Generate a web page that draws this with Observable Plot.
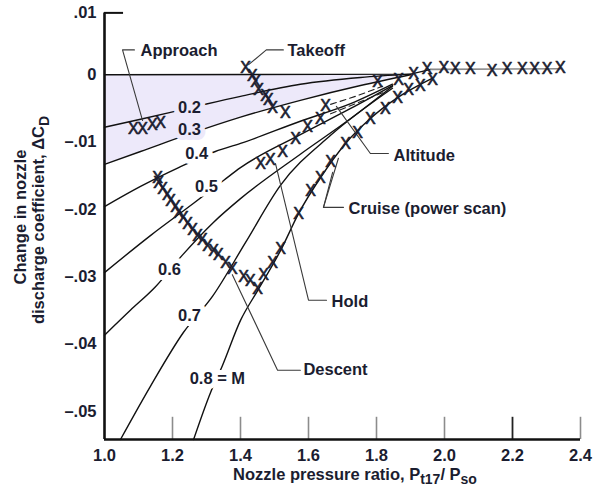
<!DOCTYPE html>
<html>
<head>
<meta charset="utf-8">
<script src="https://cdn.jsdelivr.net/npm/d3@7"></script>
<script src="https://cdn.jsdelivr.net/npm/@observablehq/plot@0.6"></script>
<style>
  body { margin: 0; background: #fff; }
  #chart { width: 598px; height: 488px; }
</style>
</head>
<body>
<div id="chart"></div>
<script>
// Axis ticks
const xTicks = [1.0, 1.2, 1.4, 1.6, 1.8, 2.0, 2.2, 2.4];
const yTicks = [0, -0.01, -0.02, -0.03, -0.04, -0.05];
const yTopTick = [0.01];

// Constant-Mach lines: [nozzle pressure ratio, change in discharge coefficient]
const machNames = ["0.2", "0.3", "0.4", "0.5", "0.6", "0.7", "0.8"];
const m02 = [[1.000,-0.0078],[1.106,-0.0066],[1.244,-0.0050],[1.400,-0.0032],[1.576,-0.0014],[1.753,-0.0004],[1.900,0.0001]];
const m03 = [[1.000,-0.0133],[1.106,-0.0114],[1.244,-0.0089],[1.400,-0.0063],[1.576,-0.0038],[1.753,-0.0016],[1.900,0.0000]];
const m04 = [[1.000,-0.0196],[1.106,-0.0166],[1.218,-0.0138],[1.326,-0.0114],[1.400,-0.0102],[1.576,-0.0069],[1.724,-0.0043],[1.847,-0.0014]];
const m05 = [[1.000,-0.0294],[1.135,-0.0239],[1.262,-0.0191],[1.350,-0.0157],[1.400,-0.0138],[1.576,-0.0089],[1.724,-0.0050],[1.847,-0.0016]];
const m06 = [[1.000,-0.0387],[1.076,-0.0350],[1.150,-0.0315],[1.229,-0.0268],[1.321,-0.0219],[1.400,-0.0184],[1.576,-0.0118],[1.724,-0.0065],[1.847,-0.0017]];
const m07 = [[1.047,-0.0542],[1.135,-0.0463],[1.232,-0.0383],[1.318,-0.0329],[1.415,-0.0249],[1.518,-0.0164],[1.665,-0.0090],[1.847,-0.0020]];
const m08 = [[1.262,-0.0542],[1.312,-0.0472],[1.347,-0.0432],[1.400,-0.0365],[1.450,-0.0321],[1.518,-0.0261],[1.571,-0.0206],[1.635,-0.0153],[1.709,-0.0102],[1.782,-0.0065],[1.862,-0.0034],[1.965,-0.0005]];

// Zero-change reference line and its continuation through the high-ratio points
const zeroLine = [[1.000,0.0000],[1.900,0.0001],[1.960,0.0008]];
const highNprLine = [[1.960,0.0008],[2.341,0.0009]];

// Mach line labels
const machLabelText = ["0.2", "0.3", "0.4", "0.5", "0.6", "0.7", "0.8 = M"];
const machLabelX = [1.250, 1.250, 1.271, 1.300, 1.191, 1.250, 1.332];
const machLabelY = [-0.0049, -0.0081, -0.0118, -0.0167, -0.0289, -0.0358, -0.0451];

// Flight-condition data points
const approachPts = [[1.085,-0.0080],[1.112,-0.0080],[1.141,-0.0075],[1.165,-0.0072]];
const takeoffPts = [[1.415,0.0011],[1.435,-0.0001],[1.444,-0.0011],[1.453,-0.0023],[1.474,-0.0031],[1.482,-0.0038],[1.494,-0.0049],[1.532,-0.0056]];
const holdPts = [[1.459,-0.0132],[1.488,-0.0127],[1.524,-0.0115],[1.562,-0.0095],[1.597,-0.0078],[1.635,-0.0065],[1.650,-0.0046]];
const altitudePts = [[1.803,-0.0011],[1.865,-0.0008],[1.909,0.0001]];
const descentPts = [[1.156,-0.0153],[1.159,-0.0160],[1.171,-0.0169],[1.185,-0.0179],[1.194,-0.0187],[1.209,-0.0197],[1.218,-0.0205],[1.232,-0.0212],[1.244,-0.0221],[1.259,-0.0231],[1.274,-0.0239],[1.288,-0.0246],[1.303,-0.0254],[1.321,-0.0261],[1.335,-0.0268],[1.356,-0.0279],[1.376,-0.0288],[1.409,-0.0301],[1.429,-0.0306],[1.450,-0.0318]];
const cruisePts = [[1.468,-0.0298],[1.494,-0.0279],[1.518,-0.0258],[1.571,-0.0206],[1.606,-0.0172],[1.635,-0.0153],[1.665,-0.0130],[1.709,-0.0102],[1.744,-0.0086],[1.782,-0.0065],[1.826,-0.0050],[1.862,-0.0034],[1.894,-0.0022],[1.929,-0.0016],[1.965,-0.0008]];
const highNprPts = [[1.949,0.0009],[1.998,0.0011],[2.032,0.0009],[2.076,0.0009],[2.140,0.0006],[2.184,0.0009],[2.229,0.0009],[2.265,0.0009],[2.302,0.0009],[2.341,0.0011]];

// Altitude dashed traces
const altDashA = [[1.665,-0.0044],[1.738,-0.0032],[1.818,-0.0017]];
const altDashB = [[1.665,-0.0058],[1.738,-0.0043],[1.826,-0.0025]];

// Callout text and leader lines
const annText = ["Approach", "Takeoff", "Altitude", "Cruise (power scan)", "Hold", "Descent"];
const annX = [1.106, 1.538, 1.850, 1.718, 1.668, 1.585];
const annY = [0.0036, 0.0036, -0.0121, -0.0199, -0.0337, -0.0439];
const leadApproach = [[1.088,0.0037],[1.053,0.0037],[1.112,-0.0068]];
const leadTakeoff = [[1.424,0.0015],[1.476,0.0037],[1.526,0.0037]];
const leadAltitude = [[1.682,-0.0047],[1.782,-0.0117],[1.835,-0.0117]];
const leadCruiseA = [[1.703,-0.0197],[1.644,-0.0197],[1.671,-0.0145]];
const leadCruiseB = [[1.644,-0.0197],[1.688,-0.0124]];
const leadHold = [[1.503,-0.0132],[1.600,-0.0335],[1.653,-0.0335]];
const leadDescent = [[1.376,-0.0297],[1.509,-0.0439],[1.576,-0.0439]];

// ---- build tables ----
const rows = (pts, key) => pts.map(([x, y]) => ({x, y, key}));
const machRows = [m02, m03, m04, m05, m06, m07, m08].flatMap((p, i) => rows(p, machNames[i]));
const labelRows = machLabelText.map((t, i) => ({text: t, x: machLabelX[i], y: machLabelY[i], shaded: i < 2}));
const pointRows = [approachPts, takeoffPts, holdPts, altitudePts, descentPts, cruisePts, highNprPts].flatMap((p, i) => rows(p, i));
const dashRows = [...rows(altDashA, "a"), ...rows(altDashB, "b")];
const leaderRows = [leadApproach, leadTakeoff, leadAltitude, leadCruiseA, leadCruiseB, leadHold, leadDescent].flatMap((p, i) => rows(p, i));
const annRows = annText.map((t, i) => ({text: t, x: annX[i], y: annY[i]}));

const yMin = -0.0542, yMax = 0.01;
const yAxisTop = 0.0092;
const INK = "#1b1d30";
const SHADE = "#ede9fa";
const fmtY = v => v === 0 ? "0" : (v < 0 ? "\u2013" : "") + d3.format(".2f")(Math.abs(v)).replace(/^0/, "");

const plot = Plot.plot({
  width: 598,
  height: 488,
  marginLeft: 104,
  marginRight: 18,
  marginTop: 7,
  marginBottom: 49,
  x: {domain: [1.0, 2.4]},
  y: {domain: [yMin, yMax]},
  style: {fontFamily: "'Liberation Sans', Arial, Helvetica, sans-serif", fontSize: "16.5px", fontWeight: "bold", color: INK, background: "white", overflow: "visible"},
  marks: [
    Plot.areaY(rows(m03, "0.3"), {x: "x", y1: 0, y2: "y", curve: "monotone-x", fill: SHADE}),
    Plot.line(rows(zeroLine, "z"), {x: "x", y: "y", stroke: "#111", strokeWidth: 1.4}),
    Plot.line(rows(highNprLine, "h"), {x: "x", y: "y", stroke: "#8a8a8a", strokeWidth: 1.6}),
    Plot.line(machRows, {x: "x", y: "y", z: "key", curve: "monotone-x", stroke: "#111", strokeWidth: 1.4}),
    Plot.line(dashRows, {x: "x", y: "y", z: "key", curve: "monotone-x", stroke: "#222", strokeWidth: 1.1, strokeDasharray: "6,4"}),
    Plot.line(leaderRows, {x: "x", y: "y", z: "key", stroke: "#3a3a3a", strokeWidth: 1.1}),
    Plot.text(labelRows.filter(d => d.shaded), {x: "x", y: "y", text: "text", fill: INK, stroke: SHADE, strokeWidth: 10, paintOrder: "stroke"}),
    Plot.text(labelRows.filter(d => !d.shaded), {x: "x", y: "y", text: "text", fill: INK, stroke: "white", strokeWidth: 10, paintOrder: "stroke"}),
    Plot.text(pointRows, {x: "x", y: "y", text: () => "X", fill: INK, stroke: INK, strokeWidth: 0.6, fontSize: 16, fontWeight: "normal"}),
    Plot.text(annRows, {x: "x", y: "y", text: "text", textAnchor: "start", fill: INK}),
    // inward x ticks
    Plot.ruleX(xTicks.filter(v => v > 1 && v !== 2.2), {y1: yMin, y2: yMin + 0.0033, stroke: "#8c8c8c", strokeWidth: 1.6}),
    Plot.ruleX(xTicks.filter(v => v === 2.2), {y1: yMin, y2: yMin + 0.0033, stroke: "#222", strokeWidth: 1.8}),
    // frame and the top tick of the y axis
    Plot.ruleX([1.0], {y1: yMin, y2: yAxisTop, stroke: "#111", strokeWidth: 2.6}),
    Plot.ruleY([yMin], {x1: 1.0, x2: 2.4, stroke: "#111", strokeWidth: 2.6}),
    Plot.ruleY([yAxisTop], {x1: 1.0, x2: 1.056, stroke: "#111", strokeWidth: 2}),
    Plot.axisX({ticks: xTicks, tickSize: 0, tickPadding: 10, tickFormat: d3.format(".1f"), label: null}),
    Plot.axisY({ticks: yTicks, tickSize: 0, tickPadding: 8, tickFormat: fmtY, label: null}),
    Plot.axisY({ticks: yTopTick, tickSize: 0, tickPadding: 8, dy: 5, tickFormat: fmtY, label: null})
  ]
});

// Axis titles with subscripts
const svg = d3.select(plot);
const xt = svg.append("text")
  .attr("x", 355).attr("y", 480)
  .attr("text-anchor", "middle").attr("fill", INK)
  .style("font-size", "16.5px").style("font-weight", "bold");
xt.append("tspan").text("Nozzle pressure ratio, P");
xt.append("tspan").attr("dy", 4).style("font-size", "14px").text("t17");
xt.append("tspan").attr("dy", -4).text("/ P");
xt.append("tspan").attr("dy", 4).style("font-size", "14px").text("so");

svg.append("text")
  .attr("transform", "translate(26,217) rotate(-90)")
  .attr("text-anchor", "middle").attr("fill", INK)
  .style("font-size", "16.5px").style("font-weight", "bold")
  .text("Change in nozzle");
const yt = svg.append("text")
  .attr("transform", "translate(44,220) rotate(-90)")
  .attr("text-anchor", "middle").attr("fill", INK)
  .style("font-size", "16.5px").style("font-weight", "bold");
yt.append("tspan").text("discharge coefficient, \u0394C");
yt.append("tspan").attr("dy", 5).style("font-size", "14px").text("D");

document.getElementById("chart").appendChild(plot);
</script>
</body>
</html>
